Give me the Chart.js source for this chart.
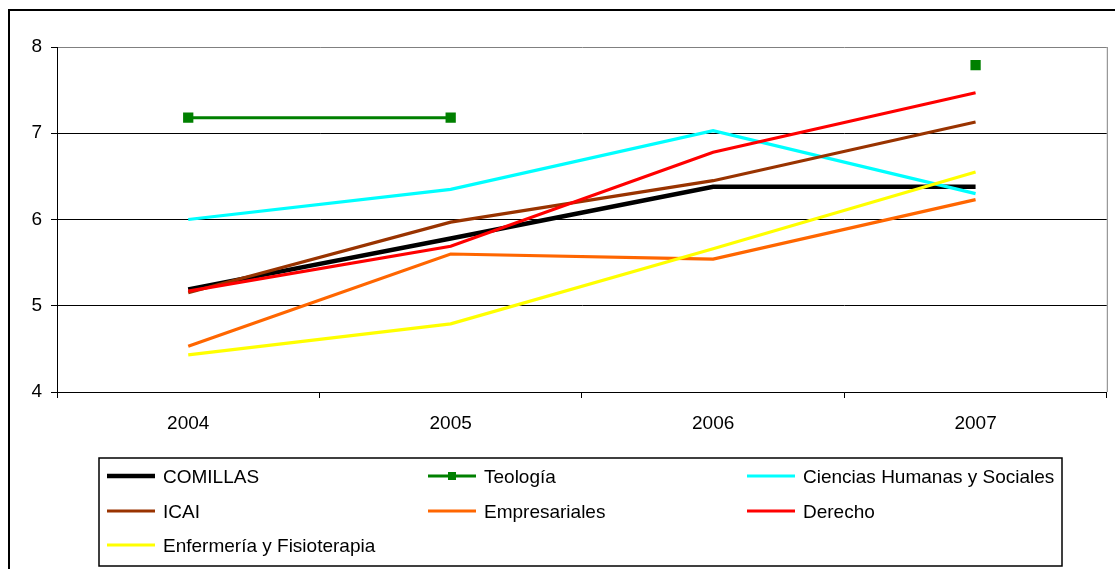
<!DOCTYPE html>
<html>
<head>
<meta charset="utf-8">
<script src="https://cdn.jsdelivr.net/npm/chart.js@4"></script>
<style>
  html, body { margin: 0; padding: 0; background: #fff; }
  #wrap { width: 1115px; height: 569px; position: relative; }
</style>
</head>
<body>
<div id="wrap"><canvas id="chart" width="1115" height="569"></canvas></div>
<script>
// values
const years = ['2004', '2005', '2006', '2007'];
const comillas = [5.19, 5.78, 6.38, 6.38];
const teologia = [7.18, 7.18, null, 7.79];
const cienciasHumanas = [6.00, 6.35, 7.03, 6.30];
const icai = [5.15, 5.97, 6.45, 7.13];
const empresariales = [4.53, 5.60, 5.54, 6.23];
const derecho = [5.17, 5.69, 6.78, 7.47];
const enfermeria = [4.43, 4.79, 5.66, 6.55];
const yMin = 4;
const yMax = 8;

const FONT = "'Liberation Sans', Arial, sans-serif";

let series = [
  { label: 'COMILLAS', data: comillas, color: '#000000', width: 4.5 },
  { label: 'Teología', data: teologia, color: '#008000', width: 3.2, marker: true },
  { label: 'Ciencias Humanas y Sociales', data: cienciasHumanas, color: '#00FFFF', width: 3.2 },
  { label: 'ICAI', data: icai, color: '#993300', width: 3.2 },
  { label: 'Empresariales', data: empresariales, color: '#FF6600', width: 3.2 },
  { label: 'Derecho', data: derecho, color: '#FF0000', width: 3.2 },
  { label: 'Enfermería y Fisioterapia', data: enfermeria, color: '#FFFF00', width: 3.2 }
];

let datasets = series.map((s, i) => ({
  label: s.label,
  data: s.data,
  borderColor: s.color,
  backgroundColor: s.color,
  borderWidth: s.width,
  pointStyle: 'rect',
  pointRadius: s.marker ? 5 : 0,
  pointHoverRadius: s.marker ? 5 : 0,
  spanGaps: false,
  tension: 0,
  order: series.length - i
}));

// white background + outer frame
let framePlugin = {
  id: 'frame',
  beforeDraw(chart) {
    let ctx = chart.ctx;
    ctx.save();
    ctx.fillStyle = '#fff';
    ctx.fillRect(0, 0, chart.width, chart.height);
    ctx.strokeStyle = '#000';
    ctx.lineWidth = 2;
    ctx.strokeRect(9, 10, chart.width + 20, chart.height + 20);
    ctx.restore();
  },
  afterDraw(chart) {
    // grey right edge of the plot area
    let a = chart.chartArea;
    let ctx = chart.ctx;
    ctx.save();
    ctx.strokeStyle = '#808080';
    ctx.lineWidth = 1;
    ctx.beginPath();
    ctx.moveTo(a.right + 0.5, a.top);
    ctx.lineTo(a.right + 0.5, a.bottom);
    ctx.stroke();
    ctx.restore();
  }
};

// excel-like legend laid out in three columns
let boxLegend = {
  id: 'boxLegend',
  afterDraw(chart) {
    let ctx = chart.ctx;
    let cols = [107, 428, 747];
    let rows = [477, 512, 546];
    ctx.save();
    ctx.strokeStyle = '#000';
    ctx.lineWidth = 1.5;
    ctx.strokeRect(99, 458, 963, 108);
    ctx.font = '19px ' + FONT;
    ctx.textBaseline = 'middle';
    ctx.fillStyle = '#000';
    chart.data.datasets.forEach((ds, i) => {
      let x = cols[i % 3];
      let y = rows[Math.floor(i / 3)];
      ctx.strokeStyle = ds.borderColor;
      ctx.lineWidth = ds.borderWidth;
      ctx.beginPath();
      ctx.moveTo(x, y - 1);
      ctx.lineTo(x + 48, y - 1);
      ctx.stroke();
      if (ds.pointRadius > 0) {
        ctx.fillStyle = ds.borderColor;
        ctx.fillRect(x + 20, y - 5, 8, 8);
      }
      ctx.fillStyle = '#000';
      ctx.fillText(ds.label, x + 56, y + 1);
    });
    ctx.restore();
  }
};

new Chart(document.getElementById('chart'), {
  type: 'line',
  data: { labels: years, datasets: datasets },
  options: {
    responsive: false,
    animation: false,
    layout: { padding: { left: 0, right: 7, top: 47, bottom: 137 } },
    plugins: {
      legend: { display: false },
      tooltip: { enabled: false },
      title: { display: false }
    },
    scales: {
      x: {
        type: 'category',
        offset: true,
        grid: {
          offset: true,
          drawOnChartArea: false,
          tickLength: 6,
          tickColor: '#000',
          tickWidth: 1
        },
        border: { color: '#000', width: 1 },
        ticks: {
          color: '#000',
          font: { family: FONT, size: 19 },
          padding: 14,
          maxRotation: 0
        },
        afterFit(scale) { scale.height = 40; }
      },
      y: {
        min: yMin,
        max: yMax,
        grid: {
          color: c => (c.tick && c.tick.value === yMax ? '#808080' : '#000'),
          lineWidth: 1,
          tickLength: 6,
          tickColor: '#000'
        },
        border: { color: '#000', width: 1 },
        ticks: {
          stepSize: 1,
          color: '#000',
          font: { family: FONT, size: 19 },
          padding: 9
        },
        afterFit(scale) { scale.width = 57; }
      }
    }
  },
  plugins: [framePlugin, boxLegend]
});
</script>
</body>
</html>
